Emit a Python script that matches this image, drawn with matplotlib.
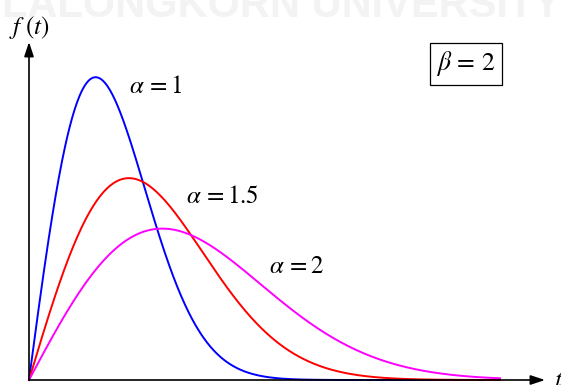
import numpy as np
import matplotlib
matplotlib.use("Agg")
import matplotlib.pyplot as plt

# Weibull density f(t) = (beta/alpha) (t/alpha)^(beta-1) exp(-(t/alpha)^beta)
beta = 2
alphas = [1, 1.5, 2]
alpha_labels = [r"$\alpha\,=1$", r"$\alpha\,=1.5$", r"$\alpha\,=2$"]
colors = ["#0000ff", "#ff0000", "#ff00ff"]
t_max = 5.0

plt.rcParams["mathtext.fontset"] = "stix"
plt.rcParams["font.family"] = ["Liberation Serif", "DejaVu Serif"]

W, H = 561, 385
fig = plt.figure(figsize=(W / 100, H / 100), dpi=100)
ax = fig.add_axes([0, 0, 1, 1])
ax.set_axis_off()

# pixel layout of the plotting frame
x0_px, y0_px = 29, 380
sx, sy = 94.2, 353.0


def X(p):
    return (p - x0_px) / sx


def Y(q):
    return (y0_px - q) / sy


ax.set_xlim(X(0), X(W))
ax.set_ylim(Y(H), Y(0))

# watermark
ax.text(X(-88), Y(17), "CHULALONGKORN UNIVERSITY", ha="left", va="baseline",
        fontsize=30, fontweight="bold", family="Liberation Sans",
        color="#f3f3f3", zorder=0)

t = np.linspace(0, t_max, 600)
for a, c in zip(alphas, colors):
    f = (beta / a) * (t / a) ** (beta - 1) * np.exp(-(t / a) ** beta)
    ax.plot(t, f, color=c, lw=1.4, zorder=3)

# axes with arrowheads
arrow = dict(arrowstyle="-|>,head_length=0.6,head_width=0.2", color="black",
             lw=1.2, shrinkA=0, shrinkB=0, mutation_scale=14.4)
ax.annotate("", xy=(X(545), 0), xytext=(0, 0), arrowprops=arrow, zorder=4)
ax.annotate("", xy=(0, Y(42)), xytext=(0, 0), arrowprops=arrow, zorder=4)

ax.text(X(9), Y(28), r"$f\ (t)$", fontsize=18, ha="left", va="center")
ax.text(X(554), Y(381), r"$t$", fontsize=18, ha="left", va="center")

label_pos = [(156, 87), (222, 197), (296, 267)]
for lab, (px, py) in zip(alpha_labels, label_pos):
    ax.text(X(px), Y(py), lab, fontsize=18, ha="center", va="center")

ax.text(X(466), Y(64), r"$\beta\,=\,2$", fontsize=18.5, ha="center", va="center",
        bbox=dict(boxstyle="square,pad=0.25", fc="white", ec="black", lw=0.9))

fig.savefig("out.png", dpi=100)
